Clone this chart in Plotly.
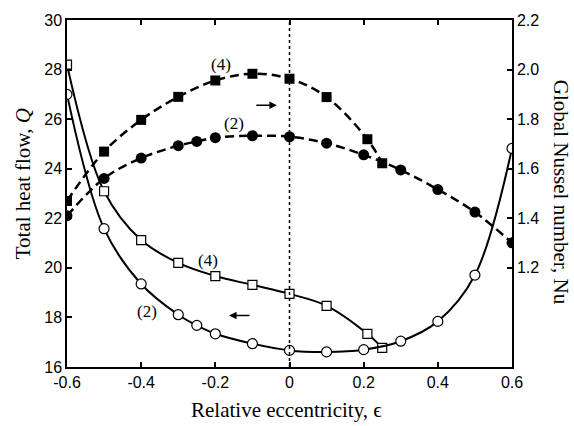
import plotly.graph_objects as go

# ---- data ----
# Total heat flow Q (left axis), solid lines, open markers
x_q4 = [-0.6, -0.5, -0.4, -0.3, -0.2, -0.1, 0.0, 0.1, 0.21, 0.25]
q4 = [28.2, 23.09, 21.12, 20.20, 19.67, 19.31, 18.95, 18.47, 17.34, 16.77]

x_q2 = [-0.6, -0.5, -0.4, -0.3, -0.25, -0.2, -0.1, 0.0, 0.1, 0.2, 0.3, 0.4, 0.5, 0.6]
q2 = [27.0, 21.58, 19.35, 18.11, 17.68, 17.34, 16.94, 16.67, 16.61, 16.70, 17.04, 17.84, 19.71, 24.82]

# Global Nusselt number Nu (right axis), dashed lines, filled markers
x_nu4 = [-0.6, -0.5, -0.4, -0.3, -0.2, -0.1, 0.0, 0.1, 0.21, 0.25]
nu4 = [1.47, 1.669, 1.797, 1.890, 1.956, 1.983, 1.963, 1.889, 1.719, 1.622]

x_nu2 = [-0.6, -0.5, -0.4, -0.3, -0.25, -0.2, -0.1, 0.0, 0.1, 0.2, 0.3, 0.4, 0.5, 0.6]
nu2 = [1.41, 1.561, 1.643, 1.693, 1.710, 1.725, 1.733, 1.729, 1.703, 1.656, 1.595, 1.516, 1.425, 1.301]

x_ticks = [-0.6, -0.4, -0.2, 0.0, 0.2, 0.4, 0.6]
x_tick_text = ["-0.6", "-0.4", "-0.2", "0", "0.2", "0.4", "0.6"]
q_ticks = [16, 18, 20, 22, 24, 26, 28, 30]
nu_ticks = [1.2, 1.4, 1.6, 1.8, 2.0, 2.2]
nu_tick_text = ["1.2", "1.4", "1.6", "1.8", "2.0", "2.2"]

SANS = "Liberation Sans, Arial, sans-serif"
SERIF = "Liberation Serif, Times New Roman, DejaVu Serif, serif"

fig = go.Figure()

fig.add_trace(go.Scatter(
    x=x_nu4, y=nu4, yaxis="y2", mode="lines+markers",
    line=dict(color="black", width=2.5, dash="9px,5px", shape="spline", smoothing=1),
    marker=dict(symbol="square", size=10, color="black"),
    showlegend=False))
fig.add_trace(go.Scatter(
    x=x_nu2, y=nu2, yaxis="y2", mode="lines+markers",
    line=dict(color="black", width=2.5, dash="9px,5px", shape="spline", smoothing=1),
    marker=dict(symbol="circle", size=11, color="black"),
    showlegend=False))
fig.add_trace(go.Scatter(
    x=x_q4, y=q4, mode="lines+markers",
    line=dict(color="black", width=2, shape="spline", smoothing=1),
    marker=dict(symbol="square", size=9, color="white", line=dict(color="black", width=1.2)),
    showlegend=False))
fig.add_trace(go.Scatter(
    x=x_q2, y=q2, mode="lines+markers",
    line=dict(color="black", width=2, shape="spline", smoothing=1),
    marker=dict(symbol="circle", size=10, color="white", line=dict(color="black", width=1.2)),
    showlegend=False))

axis_common = dict(showline=True, linecolor="black", linewidth=1.5, ticks="inside",
                   ticklen=5, tickwidth=1.5, tickcolor="black", showgrid=False,
                   zeroline=False, tickfont=dict(family=SANS, size=16, color="black"))

fig.update_layout(
    width=574, height=426,
    margin=dict(l=67, r=62, t=18, b=59),
    paper_bgcolor="white", plot_bgcolor="white",
    xaxis=dict(range=[-0.6, 0.6], tickvals=x_ticks, ticktext=x_tick_text,
               mirror="ticks", **axis_common),
    yaxis=dict(range=[16, 30], tickvals=q_ticks, **axis_common),
    yaxis2=dict(range=[0.8, 2.2], tickvals=nu_ticks, ticktext=nu_tick_text,
                overlaying="y", side="right", **axis_common),
)

fig.add_shape(type="line", xref="x", yref="paper", x0=0, x1=0, y0=0, y1=1,
              line=dict(color="black", width=1.5, dash="dot"))

lab_font = dict(family=SERIF, size=17, color="black")
fig.add_annotation(x=-0.185, y=2.02, xref="x", yref="y2", text="(4)", showarrow=False, font=lab_font)
fig.add_annotation(x=-0.150, y=1.784, xref="x", yref="y2", text="(2)", showarrow=False, font=lab_font)
fig.add_annotation(x=-0.220, y=20.31, xref="x", yref="y", text="(4)", showarrow=False, font=lab_font)
fig.add_annotation(x=-0.383, y=18.24, xref="x", yref="y", text="(2)", showarrow=False, font=lab_font)

fig.add_annotation(x=-0.034, y=1.856, xref="x", yref="y2", text="", showarrow=True,
                   ax=-22, ay=0, arrowhead=2, arrowsize=1, arrowwidth=1.5, arrowcolor="black")
fig.add_annotation(x=-0.163, y=18.08, xref="x", yref="y", text="", showarrow=True,
                   ax=22, ay=0, arrowhead=2, arrowsize=1, arrowwidth=1.5, arrowcolor="black")

title_font = dict(family=SERIF, size=21, color="black")
fig.add_annotation(x=-0.100, y=0.528, xref="paper", yref="paper", text="Total heat flow, <i>Q</i>",
                   textangle=-90, showarrow=False, font=title_font, xanchor="center", yanchor="middle")
fig.add_annotation(x=1.110, y=0.502, xref="paper", yref="paper", text="Global Nussel number, Nu",
                   textangle=90, showarrow=False, font=title_font, xanchor="center", yanchor="middle")
fig.add_annotation(x=0.494, y=-0.123, xref="paper", yref="paper", text="Relative eccentricity, \u03f5",
                   showarrow=False, font=title_font, xanchor="center", yanchor="middle")

fig.write_html("out.html", config={"displayModeBar": False},
               post_script="document.body.style.margin='0';")
